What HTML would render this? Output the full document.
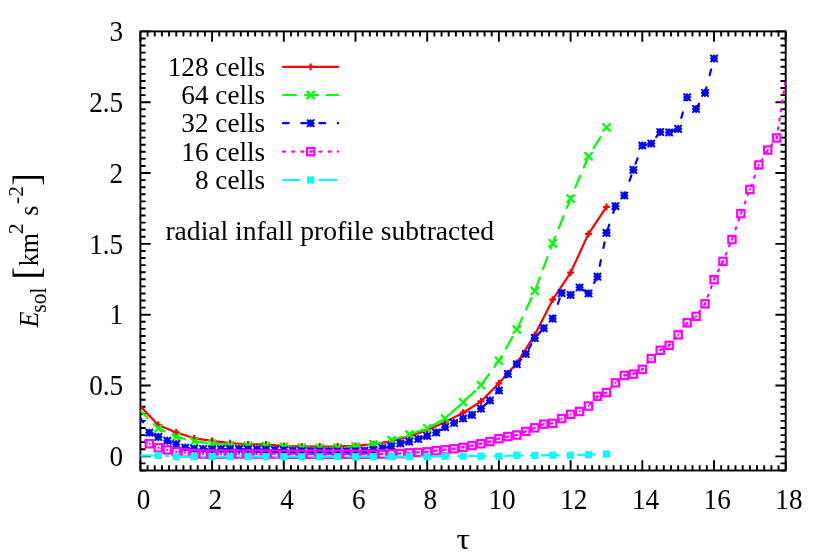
<!DOCTYPE html>
<html><head><meta charset="utf-8"><title>E_sol vs tau</title>
<style>
html,body{margin:0;padding:0;background:#fff;}
svg{display:block;}
text{font-family:"Liberation Serif",serif;font-size:27.2px;fill:#000;font-kerning:none;font-variant-ligatures:none;}
</style></head>
<body>
<svg width="830" height="555" viewBox="0 0 830 555">
<defs><clipPath id="plotclip"><rect x="140.4" y="31.4" width="645.3" height="439.1"/></clipPath></defs>
<rect x="0" y="0" width="830" height="555" fill="#fff"/>
<path d="M140.40,470.5v-10.3M140.40,31.4v10.3M147.57,470.5v-5.2M147.57,31.4v5.2M154.74,470.5v-5.2M154.74,31.4v5.2M161.91,470.5v-5.2M161.91,31.4v5.2M169.08,470.5v-5.2M169.08,31.4v5.2M176.25,470.5v-5.2M176.25,31.4v5.2M183.42,470.5v-5.2M183.42,31.4v5.2M190.59,470.5v-5.2M190.59,31.4v5.2M197.76,470.5v-5.2M197.76,31.4v5.2M204.93,470.5v-5.2M204.93,31.4v5.2M212.10,470.5v-10.3M212.10,31.4v10.3M219.27,470.5v-5.2M219.27,31.4v5.2M226.44,470.5v-5.2M226.44,31.4v5.2M233.61,470.5v-5.2M233.61,31.4v5.2M240.78,470.5v-5.2M240.78,31.4v5.2M247.95,470.5v-5.2M247.95,31.4v5.2M255.12,470.5v-5.2M255.12,31.4v5.2M262.29,470.5v-5.2M262.29,31.4v5.2M269.46,470.5v-5.2M269.46,31.4v5.2M276.63,470.5v-5.2M276.63,31.4v5.2M283.80,470.5v-10.3M283.80,31.4v10.3M290.97,470.5v-5.2M290.97,31.4v5.2M298.14,470.5v-5.2M298.14,31.4v5.2M305.31,470.5v-5.2M305.31,31.4v5.2M312.48,470.5v-5.2M312.48,31.4v5.2M319.65,470.5v-5.2M319.65,31.4v5.2M326.82,470.5v-5.2M326.82,31.4v5.2M333.99,470.5v-5.2M333.99,31.4v5.2M341.16,470.5v-5.2M341.16,31.4v5.2M348.33,470.5v-5.2M348.33,31.4v5.2M355.50,470.5v-10.3M355.50,31.4v10.3M362.67,470.5v-5.2M362.67,31.4v5.2M369.84,470.5v-5.2M369.84,31.4v5.2M377.01,470.5v-5.2M377.01,31.4v5.2M384.18,470.5v-5.2M384.18,31.4v5.2M391.35,470.5v-5.2M391.35,31.4v5.2M398.52,470.5v-5.2M398.52,31.4v5.2M405.69,470.5v-5.2M405.69,31.4v5.2M412.86,470.5v-5.2M412.86,31.4v5.2M420.03,470.5v-5.2M420.03,31.4v5.2M427.20,470.5v-10.3M427.20,31.4v10.3M434.37,470.5v-5.2M434.37,31.4v5.2M441.54,470.5v-5.2M441.54,31.4v5.2M448.71,470.5v-5.2M448.71,31.4v5.2M455.88,470.5v-5.2M455.88,31.4v5.2M463.05,470.5v-5.2M463.05,31.4v5.2M470.22,470.5v-5.2M470.22,31.4v5.2M477.39,470.5v-5.2M477.39,31.4v5.2M484.56,470.5v-5.2M484.56,31.4v5.2M491.73,470.5v-5.2M491.73,31.4v5.2M498.90,470.5v-10.3M498.90,31.4v10.3M506.07,470.5v-5.2M506.07,31.4v5.2M513.24,470.5v-5.2M513.24,31.4v5.2M520.41,470.5v-5.2M520.41,31.4v5.2M527.58,470.5v-5.2M527.58,31.4v5.2M534.75,470.5v-5.2M534.75,31.4v5.2M541.92,470.5v-5.2M541.92,31.4v5.2M549.09,470.5v-5.2M549.09,31.4v5.2M556.26,470.5v-5.2M556.26,31.4v5.2M563.43,470.5v-5.2M563.43,31.4v5.2M570.60,470.5v-10.3M570.60,31.4v10.3M577.77,470.5v-5.2M577.77,31.4v5.2M584.94,470.5v-5.2M584.94,31.4v5.2M592.11,470.5v-5.2M592.11,31.4v5.2M599.28,470.5v-5.2M599.28,31.4v5.2M606.45,470.5v-5.2M606.45,31.4v5.2M613.62,470.5v-5.2M613.62,31.4v5.2M620.79,470.5v-5.2M620.79,31.4v5.2M627.96,470.5v-5.2M627.96,31.4v5.2M635.13,470.5v-5.2M635.13,31.4v5.2M642.30,470.5v-10.3M642.30,31.4v10.3M649.47,470.5v-5.2M649.47,31.4v5.2M656.64,470.5v-5.2M656.64,31.4v5.2M663.81,470.5v-5.2M663.81,31.4v5.2M670.98,470.5v-5.2M670.98,31.4v5.2M678.15,470.5v-5.2M678.15,31.4v5.2M685.32,470.5v-5.2M685.32,31.4v5.2M692.49,470.5v-5.2M692.49,31.4v5.2M699.66,470.5v-5.2M699.66,31.4v5.2M706.83,470.5v-5.2M706.83,31.4v5.2M714.00,470.5v-10.3M714.00,31.4v10.3M721.17,470.5v-5.2M721.17,31.4v5.2M728.34,470.5v-5.2M728.34,31.4v5.2M735.51,470.5v-5.2M735.51,31.4v5.2M742.68,470.5v-5.2M742.68,31.4v5.2M749.85,470.5v-5.2M749.85,31.4v5.2M757.02,470.5v-5.2M757.02,31.4v5.2M764.19,470.5v-5.2M764.19,31.4v5.2M771.36,470.5v-5.2M771.36,31.4v5.2M778.53,470.5v-5.2M778.53,31.4v5.2M785.70,470.5v-10.3M785.70,31.4v10.3M140.4,470.50h5.2M785.7,470.50h-5.2M140.4,463.42h5.2M785.7,463.42h-5.2M140.4,456.34h10.3M785.7,456.34h-10.3M140.4,449.25h5.2M785.7,449.25h-5.2M140.4,442.17h5.2M785.7,442.17h-5.2M140.4,435.09h5.2M785.7,435.09h-5.2M140.4,428.01h5.2M785.7,428.01h-5.2M140.4,420.92h5.2M785.7,420.92h-5.2M140.4,413.84h5.2M785.7,413.84h-5.2M140.4,406.76h5.2M785.7,406.76h-5.2M140.4,399.68h5.2M785.7,399.68h-5.2M140.4,392.60h5.2M785.7,392.60h-5.2M140.4,385.51h10.3M785.7,385.51h-10.3M140.4,378.43h5.2M785.7,378.43h-5.2M140.4,371.35h5.2M785.7,371.35h-5.2M140.4,364.27h5.2M785.7,364.27h-5.2M140.4,357.18h5.2M785.7,357.18h-5.2M140.4,350.10h5.2M785.7,350.10h-5.2M140.4,343.02h5.2M785.7,343.02h-5.2M140.4,335.94h5.2M785.7,335.94h-5.2M140.4,328.85h5.2M785.7,328.85h-5.2M140.4,321.77h5.2M785.7,321.77h-5.2M140.4,314.69h10.3M785.7,314.69h-10.3M140.4,307.61h5.2M785.7,307.61h-5.2M140.4,300.53h5.2M785.7,300.53h-5.2M140.4,293.44h5.2M785.7,293.44h-5.2M140.4,286.36h5.2M785.7,286.36h-5.2M140.4,279.28h5.2M785.7,279.28h-5.2M140.4,272.20h5.2M785.7,272.20h-5.2M140.4,265.11h5.2M785.7,265.11h-5.2M140.4,258.03h5.2M785.7,258.03h-5.2M140.4,250.95h5.2M785.7,250.95h-5.2M140.4,243.87h10.3M785.7,243.87h-10.3M140.4,236.79h5.2M785.7,236.79h-5.2M140.4,229.70h5.2M785.7,229.70h-5.2M140.4,222.62h5.2M785.7,222.62h-5.2M140.4,215.54h5.2M785.7,215.54h-5.2M140.4,208.46h5.2M785.7,208.46h-5.2M140.4,201.37h5.2M785.7,201.37h-5.2M140.4,194.29h5.2M785.7,194.29h-5.2M140.4,187.21h5.2M785.7,187.21h-5.2M140.4,180.13h5.2M785.7,180.13h-5.2M140.4,173.05h10.3M785.7,173.05h-10.3M140.4,165.96h5.2M785.7,165.96h-5.2M140.4,158.88h5.2M785.7,158.88h-5.2M140.4,151.80h5.2M785.7,151.80h-5.2M140.4,144.72h5.2M785.7,144.72h-5.2M140.4,137.63h5.2M785.7,137.63h-5.2M140.4,130.55h5.2M785.7,130.55h-5.2M140.4,123.47h5.2M785.7,123.47h-5.2M140.4,116.39h5.2M785.7,116.39h-5.2M140.4,109.30h5.2M785.7,109.30h-5.2M140.4,102.22h10.3M785.7,102.22h-10.3M140.4,95.14h5.2M785.7,95.14h-5.2M140.4,88.06h5.2M785.7,88.06h-5.2M140.4,80.98h5.2M785.7,80.98h-5.2M140.4,73.89h5.2M785.7,73.89h-5.2M140.4,66.81h5.2M785.7,66.81h-5.2M140.4,59.73h5.2M785.7,59.73h-5.2M140.4,52.65h5.2M785.7,52.65h-5.2M140.4,45.56h5.2M785.7,45.56h-5.2M140.4,38.48h5.2M785.7,38.48h-5.2M140.4,31.40h10.3M785.7,31.40h-10.3" stroke="#000" stroke-width="1.9" fill="none"/>
<rect x="140.4" y="31.4" width="645.3" height="439.1" fill="none" stroke="#000" stroke-width="1.9"/>
<g clip-path="url(#plotclip)">
<path d="M140.4,406.3 L158.3,424.9 L176.2,432.4 L194.2,438.3 L212.1,440.9 L230.0,443.2 L248.0,444.5 L265.9,444.4 L283.8,446.0 L301.7,446.4 L319.7,446.5 L337.6,446.4 L355.5,445.8 L373.4,444.2 L391.4,441.3 L409.3,436.3 L427.2,430.2 L445.1,422.1 L463.1,412.7 L481.0,401.4 L498.9,383.3 L516.8,363.0 L534.8,334.9 L552.7,299.7 L570.6,272.6 L588.5,233.8 L606.5,206.8" fill="none" stroke="#ff0000" stroke-width="2.2" stroke-linecap="round" stroke-linejoin="round"/>
<path d="M154.9,424.9h6.8M158.3,421.5v6.8" stroke="#ff0000" stroke-width="2.2" fill="none"/>
<path d="M172.8,432.4h6.8M176.2,429.0v6.8" stroke="#ff0000" stroke-width="2.2" fill="none"/>
<path d="M190.8,438.3h6.8M194.2,434.9v6.8" stroke="#ff0000" stroke-width="2.2" fill="none"/>
<path d="M208.7,440.9h6.8M212.1,437.5v6.8" stroke="#ff0000" stroke-width="2.2" fill="none"/>
<path d="M226.6,443.2h6.8M230.0,439.8v6.8" stroke="#ff0000" stroke-width="2.2" fill="none"/>
<path d="M244.6,444.5h6.8M248.0,441.1v6.8" stroke="#ff0000" stroke-width="2.2" fill="none"/>
<path d="M262.5,444.4h6.8M265.9,441.0v6.8" stroke="#ff0000" stroke-width="2.2" fill="none"/>
<path d="M280.4,446.0h6.8M283.8,442.6v6.8" stroke="#ff0000" stroke-width="2.2" fill="none"/>
<path d="M298.3,446.4h6.8M301.7,443.0v6.8" stroke="#ff0000" stroke-width="2.2" fill="none"/>
<path d="M316.3,446.5h6.8M319.7,443.1v6.8" stroke="#ff0000" stroke-width="2.2" fill="none"/>
<path d="M334.2,446.4h6.8M337.6,443.0v6.8" stroke="#ff0000" stroke-width="2.2" fill="none"/>
<path d="M352.1,445.8h6.8M355.5,442.4v6.8" stroke="#ff0000" stroke-width="2.2" fill="none"/>
<path d="M370.0,444.2h6.8M373.4,440.8v6.8" stroke="#ff0000" stroke-width="2.2" fill="none"/>
<path d="M388.0,441.3h6.8M391.4,437.9v6.8" stroke="#ff0000" stroke-width="2.2" fill="none"/>
<path d="M405.9,436.3h6.8M409.3,432.9v6.8" stroke="#ff0000" stroke-width="2.2" fill="none"/>
<path d="M423.8,430.2h6.8M427.2,426.8v6.8" stroke="#ff0000" stroke-width="2.2" fill="none"/>
<path d="M441.7,422.1h6.8M445.1,418.7v6.8" stroke="#ff0000" stroke-width="2.2" fill="none"/>
<path d="M459.7,412.7h6.8M463.1,409.3v6.8" stroke="#ff0000" stroke-width="2.2" fill="none"/>
<path d="M477.6,401.4h6.8M481.0,398.0v6.8" stroke="#ff0000" stroke-width="2.2" fill="none"/>
<path d="M495.5,383.3h6.8M498.9,379.9v6.8" stroke="#ff0000" stroke-width="2.2" fill="none"/>
<path d="M513.4,363.0h6.8M516.8,359.6v6.8" stroke="#ff0000" stroke-width="2.2" fill="none"/>
<path d="M531.4,334.9h6.8M534.8,331.5v6.8" stroke="#ff0000" stroke-width="2.2" fill="none"/>
<path d="M549.3,299.7h6.8M552.7,296.3v6.8" stroke="#ff0000" stroke-width="2.2" fill="none"/>
<path d="M567.2,272.6h6.8M570.6,269.2v6.8" stroke="#ff0000" stroke-width="2.2" fill="none"/>
<path d="M585.1,233.8h6.8M588.5,230.4v6.8" stroke="#ff0000" stroke-width="2.2" fill="none"/>
<path d="M603.1,206.8h6.8M606.5,203.4v6.8" stroke="#ff0000" stroke-width="2.2" fill="none"/>
<path d="M140.4,410.8 L158.3,428.3 L176.2,436.9 L194.2,441.3 L212.1,443.6 L230.0,445.2 L248.0,445.8 L265.9,446.0 L283.8,446.8 L301.7,447.6 L319.7,448.0 L337.6,447.8 L355.5,446.6 L373.4,444.2 L391.4,440.2 L409.3,434.5 L427.2,428.4 L445.1,418.5 L463.1,402.3 L481.0,385.1 L498.9,360.7 L516.8,329.5 L534.8,291.0 L552.7,243.2 L570.6,198.6 L588.5,156.3 L606.5,127.4" fill="none" stroke="#00ff00" stroke-width="2.2" stroke-linecap="round" stroke-linejoin="round" stroke-dasharray="12.95,8.95" stroke-dashoffset="2.9"/>
<path d="M154.9,424.9l6.8,6.8M154.9,431.7l6.8,-6.8" stroke="#00ff00" stroke-width="2.2" fill="none" stroke-linecap="round"/>
<path d="M172.8,433.5l6.8,6.8M172.8,440.3l6.8,-6.8" stroke="#00ff00" stroke-width="2.2" fill="none" stroke-linecap="round"/>
<path d="M190.8,437.9l6.8,6.8M190.8,444.7l6.8,-6.8" stroke="#00ff00" stroke-width="2.2" fill="none" stroke-linecap="round"/>
<path d="M208.7,440.2l6.8,6.8M208.7,447.0l6.8,-6.8" stroke="#00ff00" stroke-width="2.2" fill="none" stroke-linecap="round"/>
<path d="M226.6,441.8l6.8,6.8M226.6,448.6l6.8,-6.8" stroke="#00ff00" stroke-width="2.2" fill="none" stroke-linecap="round"/>
<path d="M244.6,442.4l6.8,6.8M244.6,449.2l6.8,-6.8" stroke="#00ff00" stroke-width="2.2" fill="none" stroke-linecap="round"/>
<path d="M262.5,442.6l6.8,6.8M262.5,449.4l6.8,-6.8" stroke="#00ff00" stroke-width="2.2" fill="none" stroke-linecap="round"/>
<path d="M280.4,443.4l6.8,6.8M280.4,450.2l6.8,-6.8" stroke="#00ff00" stroke-width="2.2" fill="none" stroke-linecap="round"/>
<path d="M298.3,444.2l6.8,6.8M298.3,451.0l6.8,-6.8" stroke="#00ff00" stroke-width="2.2" fill="none" stroke-linecap="round"/>
<path d="M316.3,444.6l6.8,6.8M316.3,451.4l6.8,-6.8" stroke="#00ff00" stroke-width="2.2" fill="none" stroke-linecap="round"/>
<path d="M334.2,444.4l6.8,6.8M334.2,451.2l6.8,-6.8" stroke="#00ff00" stroke-width="2.2" fill="none" stroke-linecap="round"/>
<path d="M352.1,443.2l6.8,6.8M352.1,450.0l6.8,-6.8" stroke="#00ff00" stroke-width="2.2" fill="none" stroke-linecap="round"/>
<path d="M370.0,440.8l6.8,6.8M370.0,447.6l6.8,-6.8" stroke="#00ff00" stroke-width="2.2" fill="none" stroke-linecap="round"/>
<path d="M388.0,436.8l6.8,6.8M388.0,443.6l6.8,-6.8" stroke="#00ff00" stroke-width="2.2" fill="none" stroke-linecap="round"/>
<path d="M405.9,431.1l6.8,6.8M405.9,437.9l6.8,-6.8" stroke="#00ff00" stroke-width="2.2" fill="none" stroke-linecap="round"/>
<path d="M423.8,425.0l6.8,6.8M423.8,431.8l6.8,-6.8" stroke="#00ff00" stroke-width="2.2" fill="none" stroke-linecap="round"/>
<path d="M441.7,415.1l6.8,6.8M441.7,421.9l6.8,-6.8" stroke="#00ff00" stroke-width="2.2" fill="none" stroke-linecap="round"/>
<path d="M459.7,398.9l6.8,6.8M459.7,405.7l6.8,-6.8" stroke="#00ff00" stroke-width="2.2" fill="none" stroke-linecap="round"/>
<path d="M477.6,381.7l6.8,6.8M477.6,388.5l6.8,-6.8" stroke="#00ff00" stroke-width="2.2" fill="none" stroke-linecap="round"/>
<path d="M495.5,357.3l6.8,6.8M495.5,364.1l6.8,-6.8" stroke="#00ff00" stroke-width="2.2" fill="none" stroke-linecap="round"/>
<path d="M513.4,326.1l6.8,6.8M513.4,332.9l6.8,-6.8" stroke="#00ff00" stroke-width="2.2" fill="none" stroke-linecap="round"/>
<path d="M531.4,287.6l6.8,6.8M531.4,294.4l6.8,-6.8" stroke="#00ff00" stroke-width="2.2" fill="none" stroke-linecap="round"/>
<path d="M549.3,239.8l6.8,6.8M549.3,246.6l6.8,-6.8" stroke="#00ff00" stroke-width="2.2" fill="none" stroke-linecap="round"/>
<path d="M567.2,195.2l6.8,6.8M567.2,202.0l6.8,-6.8" stroke="#00ff00" stroke-width="2.2" fill="none" stroke-linecap="round"/>
<path d="M585.1,152.9l6.8,6.8M585.1,159.7l6.8,-6.8" stroke="#00ff00" stroke-width="2.2" fill="none" stroke-linecap="round"/>
<path d="M603.1,124.0l6.8,6.8M603.1,130.8l6.8,-6.8" stroke="#00ff00" stroke-width="2.2" fill="none" stroke-linecap="round"/>
<path d="M140.4,418.0 L149.4,432.6 L158.3,436.9 L167.3,440.7 L176.2,444.2 L185.2,447.6 L194.2,448.6 L203.1,449.0 L212.1,449.3 L221.1,449.2 L230.0,449.2 L239.0,449.2 L248.0,449.3 L256.9,449.4 L265.9,449.6 L274.8,449.9 L283.8,450.3 L292.8,450.7 L301.7,451.0 L310.7,451.2 L319.7,451.3 L328.6,451.3 L337.6,451.3 L346.5,451.3 L355.5,451.1 L364.5,450.6 L373.4,449.8 L382.4,448.2 L391.4,446.3 L400.3,443.4 L409.3,441.6 L418.2,439.0 L427.2,436.0 L436.2,432.5 L445.1,427.1 L454.1,423.0 L463.1,418.5 L472.0,414.9 L481.0,408.6 L489.9,400.5 L498.9,390.5 L507.9,374.0 L516.8,364.3 L525.8,354.0 L534.8,338.1 L543.7,328.2 L552.7,318.6 L561.6,293.1 L570.6,294.9 L579.6,287.5 L588.5,293.4 L597.5,276.6 L606.5,232.9 L615.4,206.2 L624.4,195.5 L633.3,169.9 L642.3,145.6 L651.3,143.6 L660.2,132.1 L669.2,132.4 L678.2,128.8 L687.1,97.3 L696.1,109.0 L705.0,92.9 L714.0,58.5" fill="none" stroke="#0000ff" stroke-width="2.2" stroke-linecap="round" stroke-linejoin="round" stroke-dasharray="5.65,12.60" stroke-dashoffset="0.65"/>
<path d="M146.3,432.6h6.1M149.4,429.6v6.1M146.3,429.6l6.1,6.1M146.3,435.7l6.1,-6.1" stroke="#0000ff" stroke-width="2.1" fill="none" stroke-linecap="round"/><rect x="146.7" y="429.9" width="5.4" height="5.4" fill="#0000ff"/>
<path d="M155.3,436.9h6.1M158.3,433.8v6.1M155.3,433.8l6.1,6.1M155.3,439.9l6.1,-6.1" stroke="#0000ff" stroke-width="2.1" fill="none" stroke-linecap="round"/><rect x="155.6" y="434.2" width="5.4" height="5.4" fill="#0000ff"/>
<path d="M164.2,440.7h6.1M167.3,437.6v6.1M164.2,437.6l6.1,6.1M164.2,443.8l6.1,-6.1" stroke="#0000ff" stroke-width="2.1" fill="none" stroke-linecap="round"/><rect x="164.6" y="438.0" width="5.4" height="5.4" fill="#0000ff"/>
<path d="M173.2,444.2h6.1M176.2,441.1v6.1M173.2,441.1l6.1,6.1M173.2,447.2l6.1,-6.1" stroke="#0000ff" stroke-width="2.1" fill="none" stroke-linecap="round"/><rect x="173.6" y="441.5" width="5.4" height="5.4" fill="#0000ff"/>
<path d="M182.2,447.6h6.1M185.2,444.6v6.1M182.2,444.6l6.1,6.1M182.2,450.7l6.1,-6.1" stroke="#0000ff" stroke-width="2.1" fill="none" stroke-linecap="round"/><rect x="182.5" y="444.9" width="5.4" height="5.4" fill="#0000ff"/>
<path d="M191.1,448.6h6.1M194.2,445.6v6.1M191.1,445.6l6.1,6.1M191.1,451.7l6.1,-6.1" stroke="#0000ff" stroke-width="2.1" fill="none" stroke-linecap="round"/><rect x="191.5" y="445.9" width="5.4" height="5.4" fill="#0000ff"/>
<path d="M200.1,449.0h6.1M203.1,445.9v6.1M200.1,445.9l6.1,6.1M200.1,452.1l6.1,-6.1" stroke="#0000ff" stroke-width="2.1" fill="none" stroke-linecap="round"/><rect x="200.4" y="446.3" width="5.4" height="5.4" fill="#0000ff"/>
<path d="M209.1,449.3h6.1M212.1,446.2v6.1M209.1,446.2l6.1,6.1M209.1,452.4l6.1,-6.1" stroke="#0000ff" stroke-width="2.1" fill="none" stroke-linecap="round"/><rect x="209.4" y="446.6" width="5.4" height="5.4" fill="#0000ff"/>
<path d="M218.0,449.2h6.1M221.1,446.1v6.1M218.0,446.1l6.1,6.1M218.0,452.2l6.1,-6.1" stroke="#0000ff" stroke-width="2.1" fill="none" stroke-linecap="round"/><rect x="218.4" y="446.5" width="5.4" height="5.4" fill="#0000ff"/>
<path d="M227.0,449.2h6.1M230.0,446.1v6.1M227.0,446.1l6.1,6.1M227.0,452.2l6.1,-6.1" stroke="#0000ff" stroke-width="2.1" fill="none" stroke-linecap="round"/><rect x="227.3" y="446.5" width="5.4" height="5.4" fill="#0000ff"/>
<path d="M235.9,449.2h6.1M239.0,446.1v6.1M235.9,446.1l6.1,6.1M235.9,452.2l6.1,-6.1" stroke="#0000ff" stroke-width="2.1" fill="none" stroke-linecap="round"/><rect x="236.3" y="446.5" width="5.4" height="5.4" fill="#0000ff"/>
<path d="M244.9,449.3h6.1M248.0,446.2v6.1M244.9,446.2l6.1,6.1M244.9,452.4l6.1,-6.1" stroke="#0000ff" stroke-width="2.1" fill="none" stroke-linecap="round"/><rect x="245.3" y="446.6" width="5.4" height="5.4" fill="#0000ff"/>
<path d="M253.9,449.4h6.1M256.9,446.3v6.1M253.9,446.3l6.1,6.1M253.9,452.4l6.1,-6.1" stroke="#0000ff" stroke-width="2.1" fill="none" stroke-linecap="round"/><rect x="254.2" y="446.7" width="5.4" height="5.4" fill="#0000ff"/>
<path d="M262.8,449.6h6.1M265.9,446.6v6.1M262.8,446.6l6.1,6.1M262.8,452.7l6.1,-6.1" stroke="#0000ff" stroke-width="2.1" fill="none" stroke-linecap="round"/><rect x="263.2" y="446.9" width="5.4" height="5.4" fill="#0000ff"/>
<path d="M271.8,449.9h6.1M274.8,446.8v6.1M271.8,446.8l6.1,6.1M271.8,452.9l6.1,-6.1" stroke="#0000ff" stroke-width="2.1" fill="none" stroke-linecap="round"/><rect x="272.1" y="447.2" width="5.4" height="5.4" fill="#0000ff"/>
<path d="M280.8,450.3h6.1M283.8,447.2v6.1M280.8,447.2l6.1,6.1M280.8,453.4l6.1,-6.1" stroke="#0000ff" stroke-width="2.1" fill="none" stroke-linecap="round"/><rect x="281.1" y="447.6" width="5.4" height="5.4" fill="#0000ff"/>
<path d="M289.7,450.7h6.1M292.8,447.6v6.1M289.7,447.6l6.1,6.1M289.7,453.8l6.1,-6.1" stroke="#0000ff" stroke-width="2.1" fill="none" stroke-linecap="round"/><rect x="290.1" y="448.0" width="5.4" height="5.4" fill="#0000ff"/>
<path d="M298.7,451.0h6.1M301.7,447.9v6.1M298.7,447.9l6.1,6.1M298.7,454.1l6.1,-6.1" stroke="#0000ff" stroke-width="2.1" fill="none" stroke-linecap="round"/><rect x="299.0" y="448.3" width="5.4" height="5.4" fill="#0000ff"/>
<path d="M307.6,451.2h6.1M310.7,448.1v6.1M307.6,448.1l6.1,6.1M307.6,454.2l6.1,-6.1" stroke="#0000ff" stroke-width="2.1" fill="none" stroke-linecap="round"/><rect x="308.0" y="448.5" width="5.4" height="5.4" fill="#0000ff"/>
<path d="M316.6,451.3h6.1M319.7,448.2v6.1M316.6,448.2l6.1,6.1M316.6,454.4l6.1,-6.1" stroke="#0000ff" stroke-width="2.1" fill="none" stroke-linecap="round"/><rect x="317.0" y="448.6" width="5.4" height="5.4" fill="#0000ff"/>
<path d="M325.6,451.3h6.1M328.6,448.2v6.1M325.6,448.2l6.1,6.1M325.6,454.4l6.1,-6.1" stroke="#0000ff" stroke-width="2.1" fill="none" stroke-linecap="round"/><rect x="325.9" y="448.6" width="5.4" height="5.4" fill="#0000ff"/>
<path d="M334.5,451.3h6.1M337.6,448.2v6.1M334.5,448.2l6.1,6.1M334.5,454.4l6.1,-6.1" stroke="#0000ff" stroke-width="2.1" fill="none" stroke-linecap="round"/><rect x="334.9" y="448.6" width="5.4" height="5.4" fill="#0000ff"/>
<path d="M343.5,451.3h6.1M346.5,448.2v6.1M343.5,448.2l6.1,6.1M343.5,454.4l6.1,-6.1" stroke="#0000ff" stroke-width="2.1" fill="none" stroke-linecap="round"/><rect x="343.8" y="448.6" width="5.4" height="5.4" fill="#0000ff"/>
<path d="M352.4,451.1h6.1M355.5,448.1v6.1M352.4,448.1l6.1,6.1M352.4,454.2l6.1,-6.1" stroke="#0000ff" stroke-width="2.1" fill="none" stroke-linecap="round"/><rect x="352.8" y="448.4" width="5.4" height="5.4" fill="#0000ff"/>
<path d="M361.4,450.6h6.1M364.5,447.6v6.1M361.4,447.6l6.1,6.1M361.4,453.7l6.1,-6.1" stroke="#0000ff" stroke-width="2.1" fill="none" stroke-linecap="round"/><rect x="361.8" y="447.9" width="5.4" height="5.4" fill="#0000ff"/>
<path d="M370.4,449.8h6.1M373.4,446.8v6.1M370.4,446.8l6.1,6.1M370.4,452.9l6.1,-6.1" stroke="#0000ff" stroke-width="2.1" fill="none" stroke-linecap="round"/><rect x="370.7" y="447.1" width="5.4" height="5.4" fill="#0000ff"/>
<path d="M379.3,448.2h6.1M382.4,445.1v6.1M379.3,445.1l6.1,6.1M379.3,451.2l6.1,-6.1" stroke="#0000ff" stroke-width="2.1" fill="none" stroke-linecap="round"/><rect x="379.7" y="445.5" width="5.4" height="5.4" fill="#0000ff"/>
<path d="M388.3,446.3h6.1M391.4,443.2v6.1M388.3,443.2l6.1,6.1M388.3,449.4l6.1,-6.1" stroke="#0000ff" stroke-width="2.1" fill="none" stroke-linecap="round"/><rect x="388.7" y="443.6" width="5.4" height="5.4" fill="#0000ff"/>
<path d="M397.3,443.4h6.1M400.3,440.3v6.1M397.3,440.3l6.1,6.1M397.3,446.4l6.1,-6.1" stroke="#0000ff" stroke-width="2.1" fill="none" stroke-linecap="round"/><rect x="397.6" y="440.7" width="5.4" height="5.4" fill="#0000ff"/>
<path d="M406.2,441.6h6.1M409.3,438.6v6.1M406.2,438.6l6.1,6.1M406.2,444.7l6.1,-6.1" stroke="#0000ff" stroke-width="2.1" fill="none" stroke-linecap="round"/><rect x="406.6" y="438.9" width="5.4" height="5.4" fill="#0000ff"/>
<path d="M415.2,439.0h6.1M418.2,435.9v6.1M415.2,435.9l6.1,6.1M415.2,442.1l6.1,-6.1" stroke="#0000ff" stroke-width="2.1" fill="none" stroke-linecap="round"/><rect x="415.5" y="436.3" width="5.4" height="5.4" fill="#0000ff"/>
<path d="M424.2,436.0h6.1M427.2,432.9v6.1M424.2,432.9l6.1,6.1M424.2,439.1l6.1,-6.1" stroke="#0000ff" stroke-width="2.1" fill="none" stroke-linecap="round"/><rect x="424.5" y="433.3" width="5.4" height="5.4" fill="#0000ff"/>
<path d="M433.1,432.5h6.1M436.2,429.4v6.1M433.1,429.4l6.1,6.1M433.1,435.6l6.1,-6.1" stroke="#0000ff" stroke-width="2.1" fill="none" stroke-linecap="round"/><rect x="433.5" y="429.8" width="5.4" height="5.4" fill="#0000ff"/>
<path d="M442.1,427.1h6.1M445.1,424.1v6.1M442.1,424.1l6.1,6.1M442.1,430.2l6.1,-6.1" stroke="#0000ff" stroke-width="2.1" fill="none" stroke-linecap="round"/><rect x="442.4" y="424.4" width="5.4" height="5.4" fill="#0000ff"/>
<path d="M451.0,423.0h6.1M454.1,419.9v6.1M451.0,419.9l6.1,6.1M451.0,426.1l6.1,-6.1" stroke="#0000ff" stroke-width="2.1" fill="none" stroke-linecap="round"/><rect x="451.4" y="420.3" width="5.4" height="5.4" fill="#0000ff"/>
<path d="M460.0,418.5h6.1M463.1,415.4v6.1M460.0,415.4l6.1,6.1M460.0,421.6l6.1,-6.1" stroke="#0000ff" stroke-width="2.1" fill="none" stroke-linecap="round"/><rect x="460.4" y="415.8" width="5.4" height="5.4" fill="#0000ff"/>
<path d="M469.0,414.9h6.1M472.0,411.8v6.1M469.0,411.8l6.1,6.1M469.0,417.9l6.1,-6.1" stroke="#0000ff" stroke-width="2.1" fill="none" stroke-linecap="round"/><rect x="469.3" y="412.2" width="5.4" height="5.4" fill="#0000ff"/>
<path d="M477.9,408.6h6.1M481.0,405.6v6.1M477.9,405.6l6.1,6.1M477.9,411.7l6.1,-6.1" stroke="#0000ff" stroke-width="2.1" fill="none" stroke-linecap="round"/><rect x="478.3" y="405.9" width="5.4" height="5.4" fill="#0000ff"/>
<path d="M486.9,400.5h6.1M489.9,397.4v6.1M486.9,397.4l6.1,6.1M486.9,403.6l6.1,-6.1" stroke="#0000ff" stroke-width="2.1" fill="none" stroke-linecap="round"/><rect x="487.2" y="397.8" width="5.4" height="5.4" fill="#0000ff"/>
<path d="M495.9,390.5h6.1M498.9,387.4v6.1M495.9,387.4l6.1,6.1M495.9,393.6l6.1,-6.1" stroke="#0000ff" stroke-width="2.1" fill="none" stroke-linecap="round"/><rect x="496.2" y="387.8" width="5.4" height="5.4" fill="#0000ff"/>
<path d="M504.8,374.0h6.1M507.9,370.9v6.1M504.8,370.9l6.1,6.1M504.8,377.1l6.1,-6.1" stroke="#0000ff" stroke-width="2.1" fill="none" stroke-linecap="round"/><rect x="505.2" y="371.3" width="5.4" height="5.4" fill="#0000ff"/>
<path d="M513.8,364.3h6.1M516.8,361.2v6.1M513.8,361.2l6.1,6.1M513.8,367.4l6.1,-6.1" stroke="#0000ff" stroke-width="2.1" fill="none" stroke-linecap="round"/><rect x="514.1" y="361.6" width="5.4" height="5.4" fill="#0000ff"/>
<path d="M522.7,354.0h6.1M525.8,350.9v6.1M522.7,350.9l6.1,6.1M522.7,357.1l6.1,-6.1" stroke="#0000ff" stroke-width="2.1" fill="none" stroke-linecap="round"/><rect x="523.1" y="351.3" width="5.4" height="5.4" fill="#0000ff"/>
<path d="M531.7,338.1h6.1M534.8,335.1v6.1M531.7,335.1l6.1,6.1M531.7,341.2l6.1,-6.1" stroke="#0000ff" stroke-width="2.1" fill="none" stroke-linecap="round"/><rect x="532.1" y="335.4" width="5.4" height="5.4" fill="#0000ff"/>
<path d="M540.7,328.2h6.1M543.7,325.1v6.1M540.7,325.1l6.1,6.1M540.7,331.2l6.1,-6.1" stroke="#0000ff" stroke-width="2.1" fill="none" stroke-linecap="round"/><rect x="541.0" y="325.5" width="5.4" height="5.4" fill="#0000ff"/>
<path d="M549.6,318.6h6.1M552.7,315.6v6.1M549.6,315.6l6.1,6.1M549.6,321.7l6.1,-6.1" stroke="#0000ff" stroke-width="2.1" fill="none" stroke-linecap="round"/><rect x="550.0" y="315.9" width="5.4" height="5.4" fill="#0000ff"/>
<path d="M558.6,293.1h6.1M561.6,290.1v6.1M558.6,290.1l6.1,6.1M558.6,296.2l6.1,-6.1" stroke="#0000ff" stroke-width="2.1" fill="none" stroke-linecap="round"/><rect x="558.9" y="290.4" width="5.4" height="5.4" fill="#0000ff"/>
<path d="M567.6,294.9h6.1M570.6,291.8v6.1M567.6,291.8l6.1,6.1M567.6,297.9l6.1,-6.1" stroke="#0000ff" stroke-width="2.1" fill="none" stroke-linecap="round"/><rect x="567.9" y="292.2" width="5.4" height="5.4" fill="#0000ff"/>
<path d="M576.5,287.5h6.1M579.6,284.4v6.1M576.5,284.4l6.1,6.1M576.5,290.6l6.1,-6.1" stroke="#0000ff" stroke-width="2.1" fill="none" stroke-linecap="round"/><rect x="576.9" y="284.8" width="5.4" height="5.4" fill="#0000ff"/>
<path d="M585.5,293.4h6.1M588.5,290.3v6.1M585.5,290.3l6.1,6.1M585.5,296.4l6.1,-6.1" stroke="#0000ff" stroke-width="2.1" fill="none" stroke-linecap="round"/><rect x="585.8" y="290.7" width="5.4" height="5.4" fill="#0000ff"/>
<path d="M594.4,276.6h6.1M597.5,273.6v6.1M594.4,273.6l6.1,6.1M594.4,279.7l6.1,-6.1" stroke="#0000ff" stroke-width="2.1" fill="none" stroke-linecap="round"/><rect x="594.8" y="273.9" width="5.4" height="5.4" fill="#0000ff"/>
<path d="M603.4,232.9h6.1M606.5,229.8v6.1M603.4,229.8l6.1,6.1M603.4,236.0l6.1,-6.1" stroke="#0000ff" stroke-width="2.1" fill="none" stroke-linecap="round"/><rect x="603.8" y="230.2" width="5.4" height="5.4" fill="#0000ff"/>
<path d="M612.4,206.2h6.1M615.4,203.1v6.1M612.4,203.1l6.1,6.1M612.4,209.2l6.1,-6.1" stroke="#0000ff" stroke-width="2.1" fill="none" stroke-linecap="round"/><rect x="612.7" y="203.5" width="5.4" height="5.4" fill="#0000ff"/>
<path d="M621.3,195.5h6.1M624.4,192.4v6.1M621.3,192.4l6.1,6.1M621.3,198.6l6.1,-6.1" stroke="#0000ff" stroke-width="2.1" fill="none" stroke-linecap="round"/><rect x="621.7" y="192.8" width="5.4" height="5.4" fill="#0000ff"/>
<path d="M630.3,169.9h6.1M633.3,166.8v6.1M630.3,166.8l6.1,6.1M630.3,173.0l6.1,-6.1" stroke="#0000ff" stroke-width="2.1" fill="none" stroke-linecap="round"/><rect x="630.6" y="167.2" width="5.4" height="5.4" fill="#0000ff"/>
<path d="M639.3,145.6h6.1M642.3,142.5v6.1M639.3,142.5l6.1,6.1M639.3,148.7l6.1,-6.1" stroke="#0000ff" stroke-width="2.1" fill="none" stroke-linecap="round"/><rect x="639.6" y="142.9" width="5.4" height="5.4" fill="#0000ff"/>
<path d="M648.2,143.6h6.1M651.3,140.5v6.1M648.2,140.5l6.1,6.1M648.2,146.7l6.1,-6.1" stroke="#0000ff" stroke-width="2.1" fill="none" stroke-linecap="round"/><rect x="648.6" y="140.9" width="5.4" height="5.4" fill="#0000ff"/>
<path d="M657.2,132.1h6.1M660.2,129.0v6.1M657.2,129.0l6.1,6.1M657.2,135.2l6.1,-6.1" stroke="#0000ff" stroke-width="2.1" fill="none" stroke-linecap="round"/><rect x="657.5" y="129.4" width="5.4" height="5.4" fill="#0000ff"/>
<path d="M666.1,132.4h6.1M669.2,129.3v6.1M666.1,129.3l6.1,6.1M666.1,135.5l6.1,-6.1" stroke="#0000ff" stroke-width="2.1" fill="none" stroke-linecap="round"/><rect x="666.5" y="129.7" width="5.4" height="5.4" fill="#0000ff"/>
<path d="M675.1,128.8h6.1M678.2,125.8v6.1M675.1,125.8l6.1,6.1M675.1,131.9l6.1,-6.1" stroke="#0000ff" stroke-width="2.1" fill="none" stroke-linecap="round"/><rect x="675.5" y="126.1" width="5.4" height="5.4" fill="#0000ff"/>
<path d="M684.1,97.3h6.1M687.1,94.2v6.1M684.1,94.2l6.1,6.1M684.1,100.3l6.1,-6.1" stroke="#0000ff" stroke-width="2.1" fill="none" stroke-linecap="round"/><rect x="684.4" y="94.6" width="5.4" height="5.4" fill="#0000ff"/>
<path d="M693.0,109.0h6.1M696.1,106.0v6.1M693.0,106.0l6.1,6.1M693.0,112.0l6.1,-6.1" stroke="#0000ff" stroke-width="2.1" fill="none" stroke-linecap="round"/><rect x="693.4" y="106.3" width="5.4" height="5.4" fill="#0000ff"/>
<path d="M702.0,92.9h6.1M705.0,89.9v6.1M702.0,89.9l6.1,6.1M702.0,96.0l6.1,-6.1" stroke="#0000ff" stroke-width="2.1" fill="none" stroke-linecap="round"/><rect x="702.3" y="90.2" width="5.4" height="5.4" fill="#0000ff"/>
<path d="M711.0,58.5h6.1M714.0,55.5v6.1M711.0,55.5l6.1,6.1M711.0,61.5l6.1,-6.1" stroke="#0000ff" stroke-width="2.1" fill="none" stroke-linecap="round"/><rect x="711.3" y="55.8" width="5.4" height="5.4" fill="#0000ff"/>
<path d="M140.4,437.0 L149.4,443.7 L158.3,447.8 L167.3,449.9 L176.2,451.8 L185.2,452.9 L194.2,453.5 L203.1,454.0 L212.1,454.0 L221.1,454.0 L230.0,454.0 L239.0,454.0 L248.0,454.0 L256.9,454.0 L265.9,454.0 L274.8,454.0 L283.8,454.2 L292.8,454.2 L301.7,454.2 L310.7,454.2 L319.7,454.2 L328.6,454.2 L337.6,454.2 L346.5,454.2 L355.5,454.2 L364.5,454.2 L373.4,454.2 L382.4,454.0 L391.4,453.8 L400.3,453.5 L409.3,452.9 L418.2,452.4 L427.2,451.8 L436.2,450.7 L445.1,449.6 L454.1,448.7 L463.1,447.3 L472.0,445.5 L481.0,443.7 L489.9,441.5 L498.9,438.6 L507.9,436.5 L516.8,435.0 L525.8,431.4 L534.8,427.8 L543.7,424.1 L552.7,423.3 L561.6,418.6 L570.6,414.3 L579.6,411.4 L588.5,406.0 L597.5,396.3 L606.5,392.5 L615.4,382.8 L624.4,375.4 L633.3,374.1 L642.3,369.3 L651.3,358.5 L660.2,350.2 L669.2,345.3 L678.2,334.8 L687.1,322.8 L696.1,316.3 L705.0,303.8 L714.0,279.6 L723.0,261.3 L731.9,239.7 L740.9,213.7 L749.9,189.4 L758.8,165.0 L767.8,150.1 L776.7,138.0 L785.7,79.0" fill="none" stroke="#ff00ff" stroke-width="2.2" stroke-linecap="round" stroke-linejoin="round" stroke-dasharray="2.00,7.12" stroke-dashoffset="3.0"/>
<rect x="145.7" y="440.1" width="7.3" height="7.3" fill="none" stroke="#ff00ff" stroke-width="2.2"/><circle cx="149.4" cy="443.7" r="1.1" fill="#ff00ff"/>
<rect x="154.7" y="444.2" width="7.3" height="7.3" fill="none" stroke="#ff00ff" stroke-width="2.2"/><circle cx="158.3" cy="447.8" r="1.1" fill="#ff00ff"/>
<rect x="163.6" y="446.2" width="7.3" height="7.3" fill="none" stroke="#ff00ff" stroke-width="2.2"/><circle cx="167.3" cy="449.9" r="1.1" fill="#ff00ff"/>
<rect x="172.6" y="448.2" width="7.3" height="7.3" fill="none" stroke="#ff00ff" stroke-width="2.2"/><circle cx="176.2" cy="451.8" r="1.1" fill="#ff00ff"/>
<rect x="181.6" y="449.2" width="7.3" height="7.3" fill="none" stroke="#ff00ff" stroke-width="2.2"/><circle cx="185.2" cy="452.9" r="1.1" fill="#ff00ff"/>
<rect x="190.5" y="449.9" width="7.3" height="7.3" fill="none" stroke="#ff00ff" stroke-width="2.2"/><circle cx="194.2" cy="453.5" r="1.1" fill="#ff00ff"/>
<rect x="199.5" y="450.4" width="7.3" height="7.3" fill="none" stroke="#ff00ff" stroke-width="2.2"/><circle cx="203.1" cy="454.0" r="1.1" fill="#ff00ff"/>
<rect x="208.5" y="450.4" width="7.3" height="7.3" fill="none" stroke="#ff00ff" stroke-width="2.2"/><circle cx="212.1" cy="454.0" r="1.1" fill="#ff00ff"/>
<rect x="217.4" y="450.4" width="7.3" height="7.3" fill="none" stroke="#ff00ff" stroke-width="2.2"/><circle cx="221.1" cy="454.0" r="1.1" fill="#ff00ff"/>
<rect x="226.4" y="450.4" width="7.3" height="7.3" fill="none" stroke="#ff00ff" stroke-width="2.2"/><circle cx="230.0" cy="454.0" r="1.1" fill="#ff00ff"/>
<rect x="235.3" y="450.4" width="7.3" height="7.3" fill="none" stroke="#ff00ff" stroke-width="2.2"/><circle cx="239.0" cy="454.0" r="1.1" fill="#ff00ff"/>
<rect x="244.3" y="450.4" width="7.3" height="7.3" fill="none" stroke="#ff00ff" stroke-width="2.2"/><circle cx="248.0" cy="454.0" r="1.1" fill="#ff00ff"/>
<rect x="253.3" y="450.4" width="7.3" height="7.3" fill="none" stroke="#ff00ff" stroke-width="2.2"/><circle cx="256.9" cy="454.0" r="1.1" fill="#ff00ff"/>
<rect x="262.2" y="450.4" width="7.3" height="7.3" fill="none" stroke="#ff00ff" stroke-width="2.2"/><circle cx="265.9" cy="454.0" r="1.1" fill="#ff00ff"/>
<rect x="271.2" y="450.4" width="7.3" height="7.3" fill="none" stroke="#ff00ff" stroke-width="2.2"/><circle cx="274.8" cy="454.0" r="1.1" fill="#ff00ff"/>
<rect x="280.2" y="450.6" width="7.3" height="7.3" fill="none" stroke="#ff00ff" stroke-width="2.2"/><circle cx="283.8" cy="454.2" r="1.1" fill="#ff00ff"/>
<rect x="289.1" y="450.6" width="7.3" height="7.3" fill="none" stroke="#ff00ff" stroke-width="2.2"/><circle cx="292.8" cy="454.2" r="1.1" fill="#ff00ff"/>
<rect x="298.1" y="450.6" width="7.3" height="7.3" fill="none" stroke="#ff00ff" stroke-width="2.2"/><circle cx="301.7" cy="454.2" r="1.1" fill="#ff00ff"/>
<rect x="307.0" y="450.6" width="7.3" height="7.3" fill="none" stroke="#ff00ff" stroke-width="2.2"/><circle cx="310.7" cy="454.2" r="1.1" fill="#ff00ff"/>
<rect x="316.0" y="450.6" width="7.3" height="7.3" fill="none" stroke="#ff00ff" stroke-width="2.2"/><circle cx="319.7" cy="454.2" r="1.1" fill="#ff00ff"/>
<rect x="325.0" y="450.6" width="7.3" height="7.3" fill="none" stroke="#ff00ff" stroke-width="2.2"/><circle cx="328.6" cy="454.2" r="1.1" fill="#ff00ff"/>
<rect x="333.9" y="450.6" width="7.3" height="7.3" fill="none" stroke="#ff00ff" stroke-width="2.2"/><circle cx="337.6" cy="454.2" r="1.1" fill="#ff00ff"/>
<rect x="342.9" y="450.6" width="7.3" height="7.3" fill="none" stroke="#ff00ff" stroke-width="2.2"/><circle cx="346.5" cy="454.2" r="1.1" fill="#ff00ff"/>
<rect x="351.9" y="450.6" width="7.3" height="7.3" fill="none" stroke="#ff00ff" stroke-width="2.2"/><circle cx="355.5" cy="454.2" r="1.1" fill="#ff00ff"/>
<rect x="360.8" y="450.6" width="7.3" height="7.3" fill="none" stroke="#ff00ff" stroke-width="2.2"/><circle cx="364.5" cy="454.2" r="1.1" fill="#ff00ff"/>
<rect x="369.8" y="450.6" width="7.3" height="7.3" fill="none" stroke="#ff00ff" stroke-width="2.2"/><circle cx="373.4" cy="454.2" r="1.1" fill="#ff00ff"/>
<rect x="378.7" y="450.4" width="7.3" height="7.3" fill="none" stroke="#ff00ff" stroke-width="2.2"/><circle cx="382.4" cy="454.0" r="1.1" fill="#ff00ff"/>
<rect x="387.7" y="450.2" width="7.3" height="7.3" fill="none" stroke="#ff00ff" stroke-width="2.2"/><circle cx="391.4" cy="453.8" r="1.1" fill="#ff00ff"/>
<rect x="396.7" y="449.9" width="7.3" height="7.3" fill="none" stroke="#ff00ff" stroke-width="2.2"/><circle cx="400.3" cy="453.5" r="1.1" fill="#ff00ff"/>
<rect x="405.6" y="449.2" width="7.3" height="7.3" fill="none" stroke="#ff00ff" stroke-width="2.2"/><circle cx="409.3" cy="452.9" r="1.1" fill="#ff00ff"/>
<rect x="414.6" y="448.8" width="7.3" height="7.3" fill="none" stroke="#ff00ff" stroke-width="2.2"/><circle cx="418.2" cy="452.4" r="1.1" fill="#ff00ff"/>
<rect x="423.6" y="448.2" width="7.3" height="7.3" fill="none" stroke="#ff00ff" stroke-width="2.2"/><circle cx="427.2" cy="451.8" r="1.1" fill="#ff00ff"/>
<rect x="432.5" y="447.1" width="7.3" height="7.3" fill="none" stroke="#ff00ff" stroke-width="2.2"/><circle cx="436.2" cy="450.7" r="1.1" fill="#ff00ff"/>
<rect x="441.5" y="446.0" width="7.3" height="7.3" fill="none" stroke="#ff00ff" stroke-width="2.2"/><circle cx="445.1" cy="449.6" r="1.1" fill="#ff00ff"/>
<rect x="450.4" y="445.1" width="7.3" height="7.3" fill="none" stroke="#ff00ff" stroke-width="2.2"/><circle cx="454.1" cy="448.7" r="1.1" fill="#ff00ff"/>
<rect x="459.4" y="443.7" width="7.3" height="7.3" fill="none" stroke="#ff00ff" stroke-width="2.2"/><circle cx="463.1" cy="447.3" r="1.1" fill="#ff00ff"/>
<rect x="468.4" y="441.9" width="7.3" height="7.3" fill="none" stroke="#ff00ff" stroke-width="2.2"/><circle cx="472.0" cy="445.5" r="1.1" fill="#ff00ff"/>
<rect x="477.3" y="440.1" width="7.3" height="7.3" fill="none" stroke="#ff00ff" stroke-width="2.2"/><circle cx="481.0" cy="443.7" r="1.1" fill="#ff00ff"/>
<rect x="486.3" y="437.9" width="7.3" height="7.3" fill="none" stroke="#ff00ff" stroke-width="2.2"/><circle cx="489.9" cy="441.5" r="1.1" fill="#ff00ff"/>
<rect x="495.3" y="435.0" width="7.3" height="7.3" fill="none" stroke="#ff00ff" stroke-width="2.2"/><circle cx="498.9" cy="438.6" r="1.1" fill="#ff00ff"/>
<rect x="504.2" y="432.9" width="7.3" height="7.3" fill="none" stroke="#ff00ff" stroke-width="2.2"/><circle cx="507.9" cy="436.5" r="1.1" fill="#ff00ff"/>
<rect x="513.2" y="431.4" width="7.3" height="7.3" fill="none" stroke="#ff00ff" stroke-width="2.2"/><circle cx="516.8" cy="435.0" r="1.1" fill="#ff00ff"/>
<rect x="522.1" y="427.8" width="7.3" height="7.3" fill="none" stroke="#ff00ff" stroke-width="2.2"/><circle cx="525.8" cy="431.4" r="1.1" fill="#ff00ff"/>
<rect x="531.1" y="424.2" width="7.3" height="7.3" fill="none" stroke="#ff00ff" stroke-width="2.2"/><circle cx="534.8" cy="427.8" r="1.1" fill="#ff00ff"/>
<rect x="540.1" y="420.5" width="7.3" height="7.3" fill="none" stroke="#ff00ff" stroke-width="2.2"/><circle cx="543.7" cy="424.1" r="1.1" fill="#ff00ff"/>
<rect x="549.0" y="419.7" width="7.3" height="7.3" fill="none" stroke="#ff00ff" stroke-width="2.2"/><circle cx="552.7" cy="423.3" r="1.1" fill="#ff00ff"/>
<rect x="558.0" y="415.0" width="7.3" height="7.3" fill="none" stroke="#ff00ff" stroke-width="2.2"/><circle cx="561.6" cy="418.6" r="1.1" fill="#ff00ff"/>
<rect x="567.0" y="410.7" width="7.3" height="7.3" fill="none" stroke="#ff00ff" stroke-width="2.2"/><circle cx="570.6" cy="414.3" r="1.1" fill="#ff00ff"/>
<rect x="575.9" y="407.8" width="7.3" height="7.3" fill="none" stroke="#ff00ff" stroke-width="2.2"/><circle cx="579.6" cy="411.4" r="1.1" fill="#ff00ff"/>
<rect x="584.9" y="402.4" width="7.3" height="7.3" fill="none" stroke="#ff00ff" stroke-width="2.2"/><circle cx="588.5" cy="406.0" r="1.1" fill="#ff00ff"/>
<rect x="593.8" y="392.7" width="7.3" height="7.3" fill="none" stroke="#ff00ff" stroke-width="2.2"/><circle cx="597.5" cy="396.3" r="1.1" fill="#ff00ff"/>
<rect x="602.8" y="388.9" width="7.3" height="7.3" fill="none" stroke="#ff00ff" stroke-width="2.2"/><circle cx="606.5" cy="392.5" r="1.1" fill="#ff00ff"/>
<rect x="611.8" y="379.2" width="7.3" height="7.3" fill="none" stroke="#ff00ff" stroke-width="2.2"/><circle cx="615.4" cy="382.8" r="1.1" fill="#ff00ff"/>
<rect x="620.7" y="371.8" width="7.3" height="7.3" fill="none" stroke="#ff00ff" stroke-width="2.2"/><circle cx="624.4" cy="375.4" r="1.1" fill="#ff00ff"/>
<rect x="629.7" y="370.5" width="7.3" height="7.3" fill="none" stroke="#ff00ff" stroke-width="2.2"/><circle cx="633.3" cy="374.1" r="1.1" fill="#ff00ff"/>
<rect x="638.7" y="365.7" width="7.3" height="7.3" fill="none" stroke="#ff00ff" stroke-width="2.2"/><circle cx="642.3" cy="369.3" r="1.1" fill="#ff00ff"/>
<rect x="647.6" y="354.9" width="7.3" height="7.3" fill="none" stroke="#ff00ff" stroke-width="2.2"/><circle cx="651.3" cy="358.5" r="1.1" fill="#ff00ff"/>
<rect x="656.6" y="346.6" width="7.3" height="7.3" fill="none" stroke="#ff00ff" stroke-width="2.2"/><circle cx="660.2" cy="350.2" r="1.1" fill="#ff00ff"/>
<rect x="665.5" y="341.7" width="7.3" height="7.3" fill="none" stroke="#ff00ff" stroke-width="2.2"/><circle cx="669.2" cy="345.3" r="1.1" fill="#ff00ff"/>
<rect x="674.5" y="331.2" width="7.3" height="7.3" fill="none" stroke="#ff00ff" stroke-width="2.2"/><circle cx="678.2" cy="334.8" r="1.1" fill="#ff00ff"/>
<rect x="683.5" y="319.2" width="7.3" height="7.3" fill="none" stroke="#ff00ff" stroke-width="2.2"/><circle cx="687.1" cy="322.8" r="1.1" fill="#ff00ff"/>
<rect x="692.4" y="312.7" width="7.3" height="7.3" fill="none" stroke="#ff00ff" stroke-width="2.2"/><circle cx="696.1" cy="316.3" r="1.1" fill="#ff00ff"/>
<rect x="701.4" y="300.2" width="7.3" height="7.3" fill="none" stroke="#ff00ff" stroke-width="2.2"/><circle cx="705.0" cy="303.8" r="1.1" fill="#ff00ff"/>
<rect x="710.4" y="276.0" width="7.3" height="7.3" fill="none" stroke="#ff00ff" stroke-width="2.2"/><circle cx="714.0" cy="279.6" r="1.1" fill="#ff00ff"/>
<rect x="719.3" y="257.7" width="7.3" height="7.3" fill="none" stroke="#ff00ff" stroke-width="2.2"/><circle cx="723.0" cy="261.3" r="1.1" fill="#ff00ff"/>
<rect x="728.3" y="236.0" width="7.3" height="7.3" fill="none" stroke="#ff00ff" stroke-width="2.2"/><circle cx="731.9" cy="239.7" r="1.1" fill="#ff00ff"/>
<rect x="737.2" y="210.0" width="7.3" height="7.3" fill="none" stroke="#ff00ff" stroke-width="2.2"/><circle cx="740.9" cy="213.7" r="1.1" fill="#ff00ff"/>
<rect x="746.2" y="185.8" width="7.3" height="7.3" fill="none" stroke="#ff00ff" stroke-width="2.2"/><circle cx="749.9" cy="189.4" r="1.1" fill="#ff00ff"/>
<rect x="755.2" y="161.3" width="7.3" height="7.3" fill="none" stroke="#ff00ff" stroke-width="2.2"/><circle cx="758.8" cy="165.0" r="1.1" fill="#ff00ff"/>
<rect x="764.1" y="146.4" width="7.3" height="7.3" fill="none" stroke="#ff00ff" stroke-width="2.2"/><circle cx="767.8" cy="150.1" r="1.1" fill="#ff00ff"/>
<rect x="773.1" y="134.3" width="7.3" height="7.3" fill="none" stroke="#ff00ff" stroke-width="2.2"/><circle cx="776.7" cy="138.0" r="1.1" fill="#ff00ff"/>
<path d="M140.4,455.6 L158.3,455.5 L176.2,456.7 L194.2,456.7 L212.1,456.7 L230.0,456.7 L248.0,456.7 L265.9,456.7 L283.8,456.7 L301.7,456.7 L319.7,456.7 L337.6,456.7 L355.5,456.7 L373.4,456.7 L391.4,456.7 L409.3,456.7 L427.2,456.7 L445.1,456.2 L463.1,456.2 L481.0,456.2 L498.9,456.2 L516.8,455.2 L534.8,455.5 L552.7,455.2 L570.6,455.2 L588.5,454.7 L606.5,454.0" fill="none" stroke="#00ffff" stroke-width="2.2" stroke-linecap="round" stroke-linejoin="round" stroke-dasharray="16.60,8.95,2.00,8.95" stroke-dashoffset="0"/>
<rect x="154.7" y="451.9" width="7.2" height="7.2" fill="#00ffff"/>
<rect x="172.7" y="453.1" width="7.2" height="7.2" fill="#00ffff"/>
<rect x="190.6" y="453.1" width="7.2" height="7.2" fill="#00ffff"/>
<rect x="208.5" y="453.1" width="7.2" height="7.2" fill="#00ffff"/>
<rect x="226.4" y="453.1" width="7.2" height="7.2" fill="#00ffff"/>
<rect x="244.4" y="453.1" width="7.2" height="7.2" fill="#00ffff"/>
<rect x="262.3" y="453.1" width="7.2" height="7.2" fill="#00ffff"/>
<rect x="280.2" y="453.1" width="7.2" height="7.2" fill="#00ffff"/>
<rect x="298.1" y="453.1" width="7.2" height="7.2" fill="#00ffff"/>
<rect x="316.1" y="453.1" width="7.2" height="7.2" fill="#00ffff"/>
<rect x="334.0" y="453.1" width="7.2" height="7.2" fill="#00ffff"/>
<rect x="351.9" y="453.1" width="7.2" height="7.2" fill="#00ffff"/>
<rect x="369.8" y="453.1" width="7.2" height="7.2" fill="#00ffff"/>
<rect x="387.8" y="453.1" width="7.2" height="7.2" fill="#00ffff"/>
<rect x="405.7" y="453.1" width="7.2" height="7.2" fill="#00ffff"/>
<rect x="423.6" y="453.1" width="7.2" height="7.2" fill="#00ffff"/>
<rect x="441.5" y="452.6" width="7.2" height="7.2" fill="#00ffff"/>
<rect x="459.5" y="452.6" width="7.2" height="7.2" fill="#00ffff"/>
<rect x="477.4" y="452.6" width="7.2" height="7.2" fill="#00ffff"/>
<rect x="495.3" y="452.6" width="7.2" height="7.2" fill="#00ffff"/>
<rect x="513.2" y="451.6" width="7.2" height="7.2" fill="#00ffff"/>
<rect x="531.2" y="451.9" width="7.2" height="7.2" fill="#00ffff"/>
<rect x="549.1" y="451.6" width="7.2" height="7.2" fill="#00ffff"/>
<rect x="567.0" y="451.6" width="7.2" height="7.2" fill="#00ffff"/>
<rect x="584.9" y="451.1" width="7.2" height="7.2" fill="#00ffff"/>
<rect x="602.9" y="450.4" width="7.2" height="7.2" fill="#00ffff"/>
</g>
<path d="M283.0,66.8 L338.2,66.8" fill="none" stroke="#ff0000" stroke-width="2.2" stroke-linecap="round" stroke-linejoin="round"/>
<path d="M307.2,66.8h6.8M310.6,63.4v6.8" stroke="#ff0000" stroke-width="2.2" fill="none"/>
<path d="M283.0,95.0 L338.2,95.0" fill="none" stroke="#00ff00" stroke-width="2.2" stroke-linecap="round" stroke-linejoin="round" stroke-dasharray="12.95,8.95" stroke-dashoffset="0"/>
<path d="M307.2,91.6l6.8,6.8M307.2,98.4l6.8,-6.8" stroke="#00ff00" stroke-width="2.2" fill="none" stroke-linecap="round"/>
<path d="M283.0,123.2 L338.2,123.2" fill="none" stroke="#0000ff" stroke-width="2.2" stroke-linecap="round" stroke-linejoin="round" stroke-dasharray="5.65,12.60" stroke-dashoffset="0"/>
<path d="M307.6,123.2h6.1M310.6,120.2v6.1M307.6,120.2l6.1,6.1M307.6,126.2l6.1,-6.1" stroke="#0000ff" stroke-width="2.1" fill="none" stroke-linecap="round"/><rect x="307.9" y="120.5" width="5.4" height="5.4" fill="#0000ff"/>
<path d="M283.0,151.6 L338.2,151.6" fill="none" stroke="#ff00ff" stroke-width="2.2" stroke-linecap="round" stroke-linejoin="round" stroke-dasharray="2.00,7.12" stroke-dashoffset="0"/>
<rect x="307.0" y="147.9" width="7.3" height="7.3" fill="none" stroke="#ff00ff" stroke-width="2.2"/><circle cx="310.6" cy="151.6" r="1.1" fill="#ff00ff"/>
<path d="M283.0,180.0 L338.2,180.0" fill="none" stroke="#00ffff" stroke-width="2.2" stroke-linecap="round" stroke-linejoin="round" stroke-dasharray="16.60,8.95,2.00,8.95" stroke-dashoffset="0"/>
<rect x="307.0" y="176.4" width="7.2" height="7.2" fill="#00ffff"/>
<g style="filter:grayscale(1)">
<text transform="translate(265.20,76.00) scale(1.0,1.03)" text-anchor="end" style="font-size:27.2px;">128 cells</text>
<text transform="translate(265.20,104.20) scale(1.0,1.03)" text-anchor="end" style="font-size:27.2px;">64 cells</text>
<text transform="translate(265.20,132.40) scale(1.0,1.03)" text-anchor="end" style="font-size:27.2px;">32 cells</text>
<text transform="translate(265.20,160.80) scale(1.0,1.03)" text-anchor="end" style="font-size:27.2px;">16 cells</text>
<text transform="translate(265.20,189.20) scale(1.0,1.03)" text-anchor="end" style="font-size:27.2px;">8 cells</text>
<text transform="translate(165.40,240.30) scale(1.015,1.03)" text-anchor="start" style="font-size:27.2px;">radial infall profile subtracted</text>
<text transform="translate(143.60,509.00) scale(1.0,1.045)" text-anchor="middle" style="font-size:27.2px;">0</text>
<text transform="translate(215.30,509.00) scale(1.0,1.045)" text-anchor="middle" style="font-size:27.2px;">2</text>
<text transform="translate(287.00,509.00) scale(1.0,1.045)" text-anchor="middle" style="font-size:27.2px;">4</text>
<text transform="translate(358.70,509.00) scale(1.0,1.045)" text-anchor="middle" style="font-size:27.2px;">6</text>
<text transform="translate(430.40,509.00) scale(1.0,1.045)" text-anchor="middle" style="font-size:27.2px;">8</text>
<text transform="translate(502.10,509.00) scale(1.0,1.045)" text-anchor="middle" style="font-size:27.2px;">10</text>
<text transform="translate(573.80,509.00) scale(1.0,1.045)" text-anchor="middle" style="font-size:27.2px;">12</text>
<text transform="translate(645.50,509.00) scale(1.0,1.045)" text-anchor="middle" style="font-size:27.2px;">14</text>
<text transform="translate(717.20,509.00) scale(1.0,1.045)" text-anchor="middle" style="font-size:27.2px;">16</text>
<text transform="translate(788.90,509.00) scale(1.0,1.045)" text-anchor="middle" style="font-size:27.2px;">18</text>
<text transform="translate(123.20,466.14) scale(1.0,1.045)" text-anchor="end" style="font-size:27.2px;">0</text>
<text transform="translate(123.20,395.31) scale(1.0,1.045)" text-anchor="end" style="font-size:27.2px;">0.5</text>
<text transform="translate(123.20,324.49) scale(1.0,1.045)" text-anchor="end" style="font-size:27.2px;">1</text>
<text transform="translate(123.20,253.67) scale(1.0,1.045)" text-anchor="end" style="font-size:27.2px;">1.5</text>
<text transform="translate(123.20,182.85) scale(1.0,1.045)" text-anchor="end" style="font-size:27.2px;">2</text>
<text transform="translate(123.20,112.02) scale(1.0,1.045)" text-anchor="end" style="font-size:27.2px;">2.5</text>
<text transform="translate(123.20,41.20) scale(1.0,1.045)" text-anchor="end" style="font-size:27.2px;">3</text>
<text transform="translate(463.30,548.60) scale(1.12,1.0)" text-anchor="middle" style="font-size:30px;">τ</text>
<text transform="translate(38.00,327.50) rotate(-90) scale(1.0,1.045)" text-anchor="start" style="font-size:26.0px;font-style:italic;">E</text>
<text transform="translate(46.20,312.70) rotate(-90) scale(1.0,1.045)" text-anchor="start" style="font-size:21.5px;">sol</text>
<text transform="translate(39.20,279.40) rotate(-90) scale(1.0,1.015)" text-anchor="start" style="font-size:38.0px;">[</text>
<text transform="translate(38.00,266.30) rotate(-90) scale(1.0,1.045)" text-anchor="start" style="font-size:26.0px;">km</text>
<text transform="translate(23.40,234.30) rotate(-90) scale(1.0,0.97)" text-anchor="start" style="font-size:22.0px;">2</text>
<text transform="translate(38.00,215.80) rotate(-90) scale(1.0,1.045)" text-anchor="start" style="font-size:26.0px;">s</text>
<text transform="translate(23.40,204.00) rotate(-90) scale(1.0,0.97)" text-anchor="start" style="font-size:21.5px;">-2</text>
<text transform="translate(39.20,185.80) rotate(-90) scale(1.0,1.015)" text-anchor="start" style="font-size:38.0px;">]</text>
</g>
</svg>
</body></html>
